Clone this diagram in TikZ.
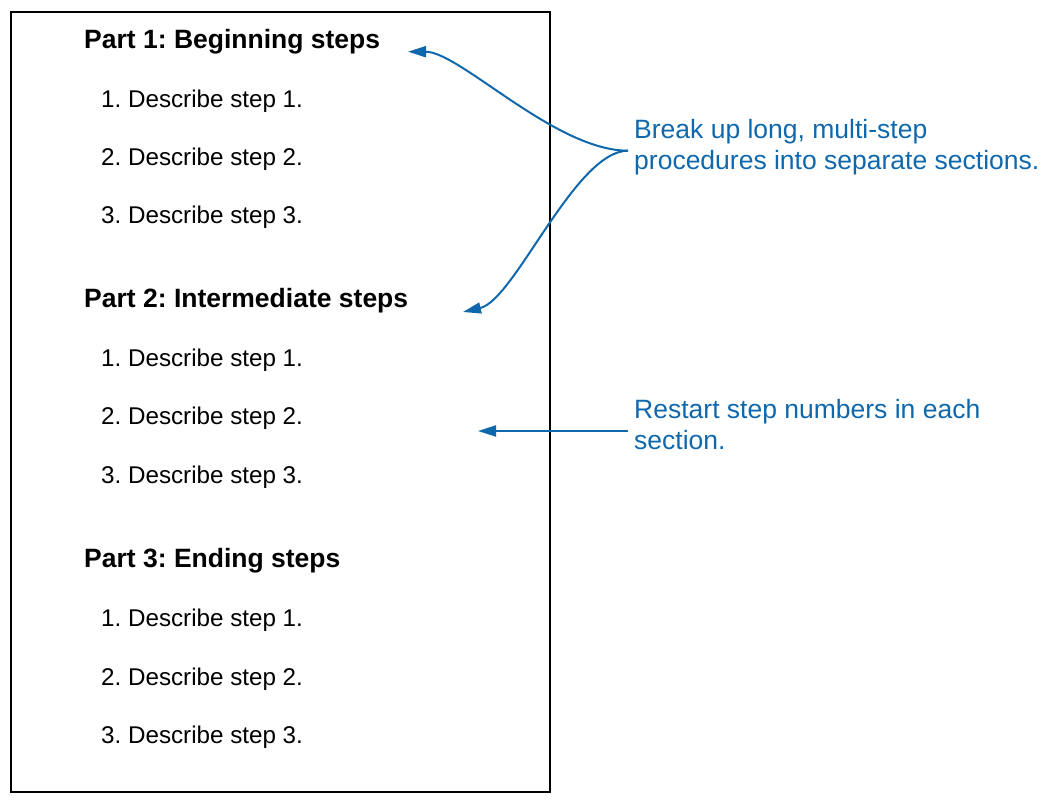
\documentclass[tikz,border=0pt]{standalone}
\usepackage{fontspec}
\setmainfont{Liberation Sans}
\frenchspacing
\usetikzlibrary{arrows.meta}
\definecolor{noteblue}{RGB}{16,104,172}
\begin{document}
\begin{tikzpicture}[x=1pt,y=-1pt,
  heading/.style={anchor=base west,inner sep=0pt,font=\fontsize{26.5}{30}\selectfont\bfseries},
  item/.style={anchor=base west,inner sep=0pt,font=\fontsize{24.2}{28}\selectfont},
  note/.style={anchor=base west,inner sep=0pt,align=left,text=noteblue,font=\fontsize{26.5}{31}\selectfont},
  pointer/.style={draw=noteblue,line width=2pt,-{Triangle[length=18pt,width=11pt]}}]
\useasboundingbox (0,0) rectangle (1052,802);
\node[draw=black,line width=2pt,inner sep=0pt,minimum width=539pt,minimum height=780pt,anchor=north west] (page) at (10,11) {};
% Part 1
\node[heading] (p1) at (84,48.5) {Part 1: Beginning steps};
\node[item] (p1a) at (101,107.5) {1. Describe step 1.};
\node[item] (p1b) at (101,165.5) {2. Describe step 2.};
\node[item] (p1c) at (101,223.5) {3. Describe step 3.};
% Part 2
\node[heading] (p2) at (84,307.5) {Part 2: Intermediate steps};
\node[item] (p2a) at (101,366.5) {1. Describe step 1.};
\node[item] (p2b) at (101,424.5) {2. Describe step 2.};
\node[item] (p2c) at (101,483.5) {3. Describe step 3.};
% Part 3
\node[heading] (p3) at (84,567.5) {Part 3: Ending steps};
\node[item] (p3a) at (101,626.5) {1. Describe step 1.};
\node[item] (p3b) at (101,685.5) {2. Describe step 2.};
\node[item] (p3c) at (101,743.5) {3. Describe step 3.};
% notes
\node[note] (n1) at (634,169.3) {Break up long, multi-step\\procedures into separate sections.};
\node[note] (n2) at (634,449) {Restart step numbers in each\\section.};
\coordinate (s1) at (628,150.7);
\coordinate (s2) at (628,431);
\coordinate (t1) at (408,51.7);
\coordinate (t2) at (463,312);
\coordinate (t3) at (478,431);
\draw[pointer] (s1) .. controls (555,150.7) and (460,51.7) .. (t1);
\draw[pointer] (s1) .. controls (575,150.7) and (515,300) .. (t2);
\draw[pointer] (s2) -- (t3);
\end{tikzpicture}
\end{document}
